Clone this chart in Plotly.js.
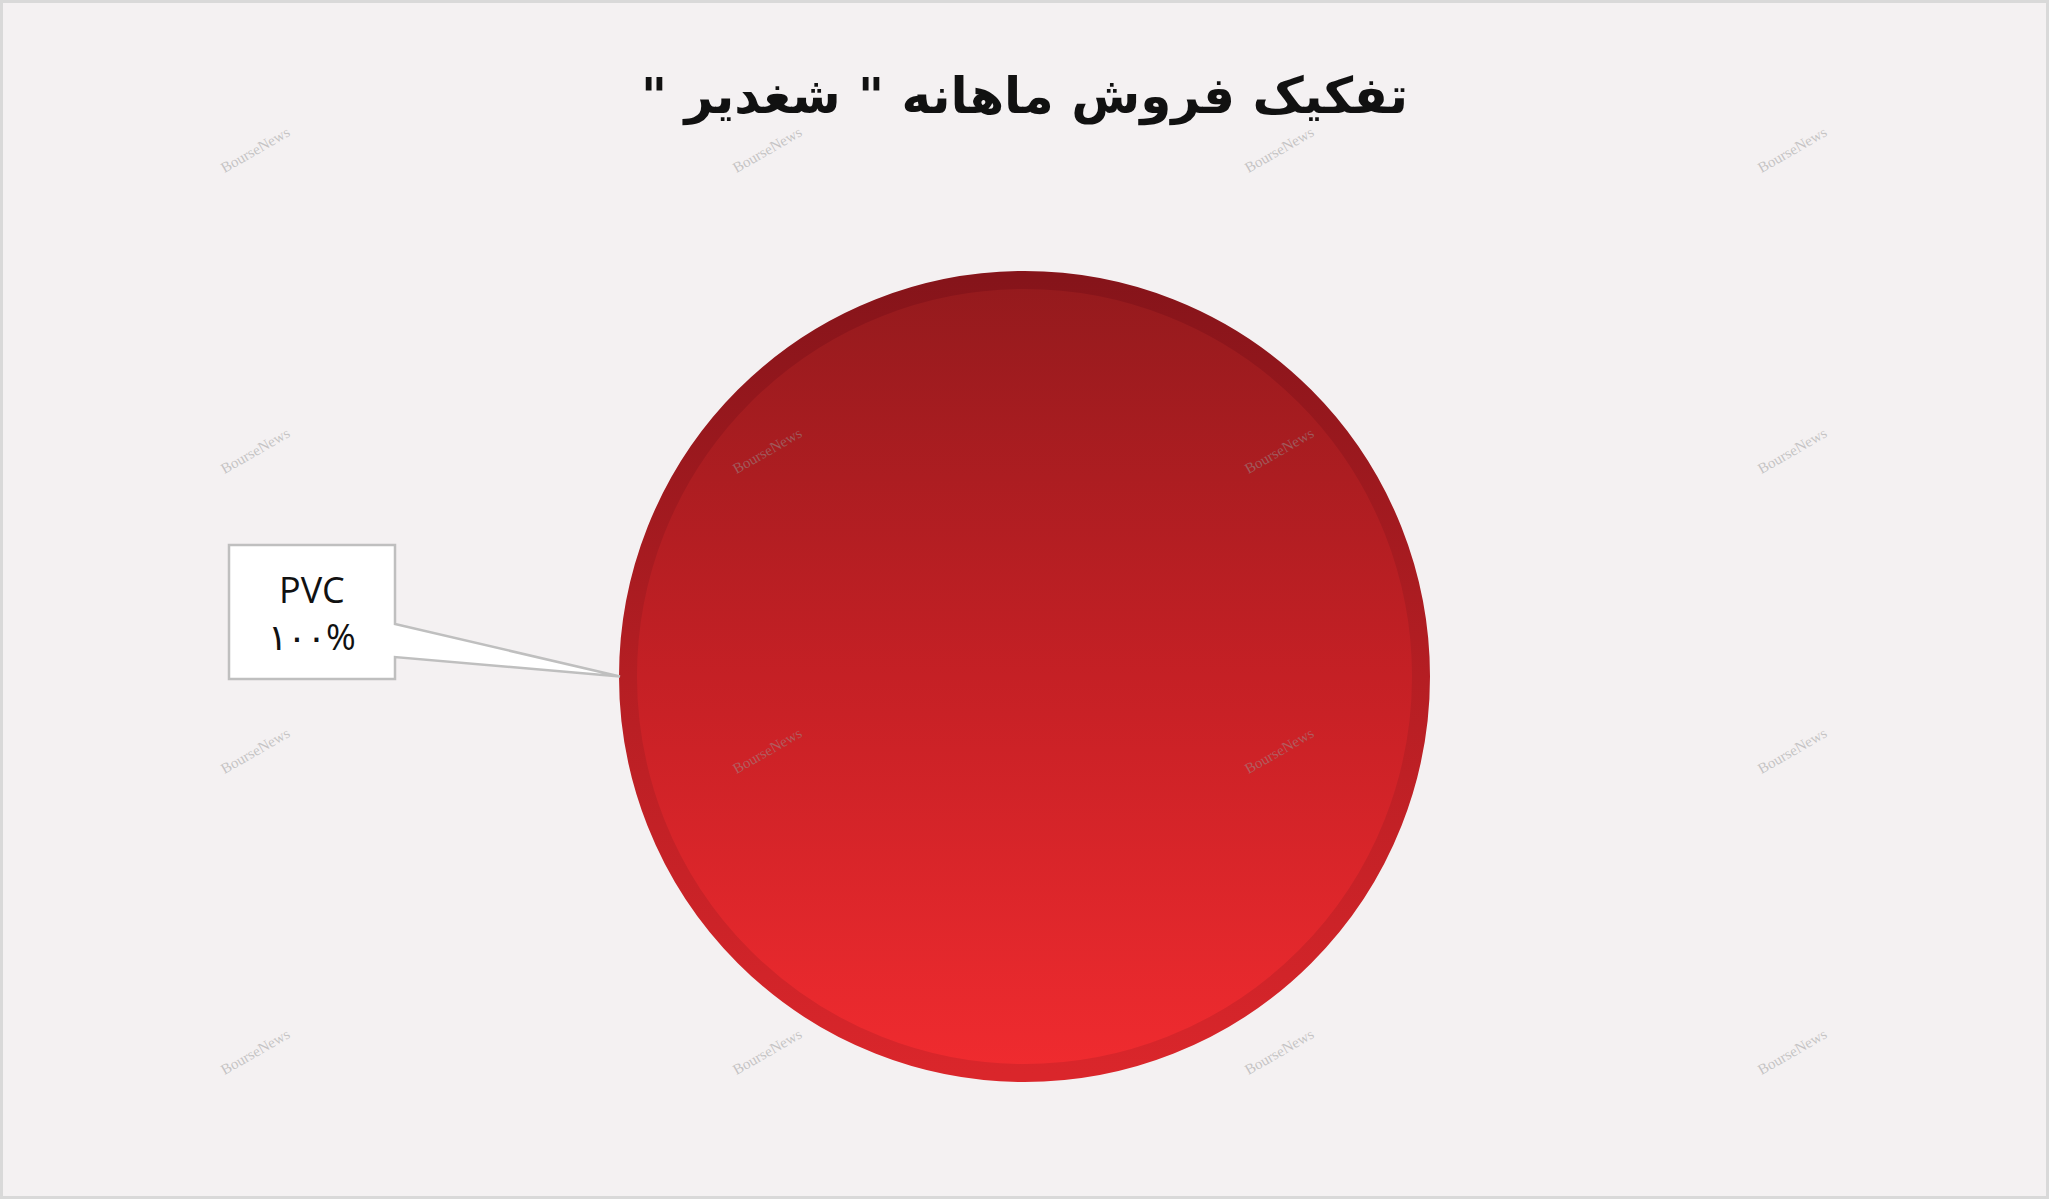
<!DOCTYPE html>
<html><head><meta charset="utf-8">
<script src="https://cdn.plot.ly/plotly-3.0.1.min.js"></script>
<style>html,body{margin:0;padding:0;background:#f4f1f2;overflow:hidden;} #chart{width:2049px;height:1199px;}</style>
</head><body><div id="chart"></div>
<script>
// ---- data ----
const categories = ['PVC'];
const values = [100];
const chartTitle = 'تفکیک فروش ماهانه " شغدیر "';
const watermarkText = 'BourseNews';

// ---- layout helpers ----
const W = 2049, H = 1199;
const cx = 1024.5, cy = 676.5, rOuter = 405.5, ring = 18;
const rFill = rOuter - ring / 2;
const px = x => x / W, py = y => 1 - y / H;

const total = values.reduce((a, b) => a + b, 0);
const faDigits = '۰۱۲۳۴۵۶۷۸۹';
const toFa = n => String(n).replace(/[0-9]/g, d => faDigits[+d]);
const labelText = categories.map((c, i) => c + '<br>' + toFa(Math.round(values[i] / total * 100)) + '%');

const trace = {
  type: 'pie',
  labels: categories,
  values: values,
  sort: false,
  direction: 'clockwise',
  textinfo: 'none',
  hoverinfo: 'none',
  showlegend: false,
  marker: { colors: ['#c52025'], line: { color: '#b31f23', width: ring } },
  domain: { x: [px(cx - rFill), px(cx + rFill)], y: [py(cy + rFill), py(cy - rFill)] }
};

// callout box + wedge
const bx0 = 229, bx1 = 395, by0 = 545, by1 = 679, wy0 = 624, wy1 = 657;
const tipX = cx - rOuter + 1, tipY = cy;
const calloutPath = 'M' + px(bx0) + ',' + py(by0) + ' L' + px(bx1) + ',' + py(by0) +
  ' L' + px(bx1) + ',' + py(wy0) + ' L' + px(tipX) + ',' + py(tipY) +
  ' L' + px(bx1) + ',' + py(wy1) + ' L' + px(bx1) + ',' + py(by1) +
  ' L' + px(bx0) + ',' + py(by1) + ' Z';

const annotations = [{
  xref: 'paper', yref: 'paper', x: px((bx0 + bx1) / 2), y: py((by0 + by1) / 2 + 1),
  xanchor: 'center', yanchor: 'middle', showarrow: false, align: 'center',
  text: labelText[0],
  font: { family: 'Open Sans, DejaVu Sans, sans-serif', size: 36, color: '#111' }
}];

// watermark grid
const wmX = [255, 767, 1279, 1792], wmY = [150, 451, 751, 1052];
wmY.forEach(y => wmX.forEach(x => {
  annotations.push({
    xref: 'paper', yref: 'paper', x: px(x), y: py(y), xanchor: 'center', yanchor: 'middle',
    showarrow: false, text: watermarkText, textangle: -30,
    font: { family: 'Liberation Serif, serif', size: 15, color: 'rgba(150,150,150,0.5)' }
  });
}));

const layout = {
  width: W, height: H,
  margin: { l: 0, r: 0, t: 0, b: 0 },
  paper_bgcolor: '#f4f1f2',
  plot_bgcolor: '#f4f1f2',
  title: {
    text: '\u200F' + chartTitle + '\u200F',
    x: 0.5, xanchor: 'center', y: py(95), yanchor: 'middle', yref: 'container',
    font: { family: 'DejaVu Sans, sans-serif', size: 50, weight: 'bold', color: '#111' }
  },
  shapes: [
    { type: 'path', xref: 'paper', yref: 'paper', path: calloutPath,
      fillcolor: '#ffffff', line: { color: '#bfbfbf', width: 2.5 }, layer: 'above' },
    { type: 'rect', xref: 'paper', yref: 'paper', x0: 0, x1: 1, y0: 0, y1: 1,
      line: { color: '#d9d9d9', width: 6 }, fillcolor: 'rgba(0,0,0,0)', layer: 'above' }
  ],
  annotations: annotations
};

const fillStops = [[0, '#941a1d'], [0.5, '#c52025'], [1, '#f02b2f']];
const ringStops = [[0, '#86141a'], [0.5, '#b51e23'], [1, '#da262b']];

function applyGradient(gd) {
  const svg = gd.querySelector('.main-svg');
  if (!svg) return;
  const ns = 'http://www.w3.org/2000/svg';
  let defs = svg.querySelector('defs');
  if (!defs) { defs = document.createElementNS(ns, 'defs'); svg.insertBefore(defs, svg.firstChild); }
  function mk(id, stops) {
    if (svg.querySelector('#' + id)) return;
    const g = document.createElementNS(ns, 'linearGradient');
    g.setAttribute('id', id);
    g.setAttribute('x1', '0'); g.setAttribute('y1', '0'); g.setAttribute('x2', '0'); g.setAttribute('y2', '1');
    stops.forEach(([o, c]) => {
      const s = document.createElementNS(ns, 'stop');
      s.setAttribute('offset', o); s.setAttribute('stop-color', c);
      g.appendChild(s);
    });
    defs.appendChild(g);
  }
  mk('pieFillGrad', fillStops);
  mk('pieRingGrad', ringStops);
  gd.querySelectorAll('.pielayer path.surface').forEach(p => {
    p.style.fill = 'url(#pieFillGrad)';
    p.style.stroke = 'url(#pieRingGrad)';
  });
}

const gd = document.getElementById('chart');
Plotly.newPlot(gd, [trace], layout, { displayModeBar: false, staticPlot: true }).then(() => {
  applyGradient(gd);
  gd.on('plotly_afterplot', () => applyGradient(gd));
});
</script>
</body></html>
